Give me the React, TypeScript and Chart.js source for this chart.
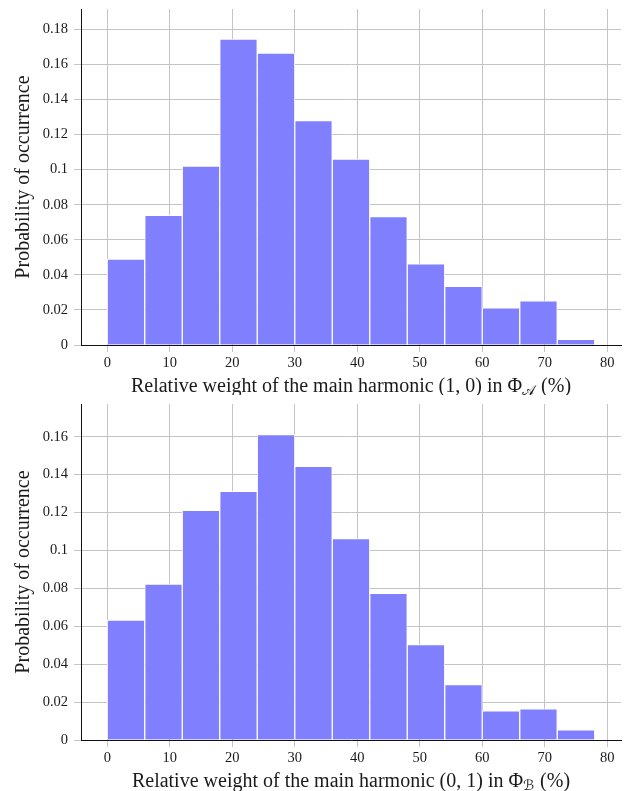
import React, { useEffect, useRef } from "react";
import { Chart, registerables } from "chart.js";

Chart.register(...registerables);

// Histogram bins (left edges, width in %)
const binStarts = [0, 6, 12, 18, 24, 30, 36, 42, 48, 54, 60, 66, 72];
const binWidth = 6;

// Probability of occurrence, top panel (Φ_A) and bottom panel (Φ_B)
const probA = [0.049, 0.074, 0.102, 0.1745, 0.1665, 0.128, 0.106, 0.0733, 0.0463, 0.0334, 0.0212, 0.0252, 0.0032];
const probB = [0.0633, 0.0823, 0.1212, 0.1312, 0.1612, 0.1444, 0.1063, 0.0774, 0.0503, 0.0293, 0.0154, 0.0165, 0.0054];

// Tick labels
const xTicks = [0, 10, 20, 30, 40, 50, 60, 70, 80];
const yTicksA = [0, 0.02, 0.04, 0.06, 0.08, 0.1, 0.12, 0.14, 0.16, 0.18];
const yTicksB = [0, 0.02, 0.04, 0.06, 0.08, 0.1, 0.12, 0.14, 0.16];

const yTitle = "Probability of occurrence";
const xTitleStart = "Relative weight of the main harmonic ";
const pairA = "(1, 0)";
const pairB = "(0, 1)";
const subA = "\u{1D49C}";
const subB = "\u212C";

const SERIF = '"Liberation Serif", "DejaVu Serif", serif';
const TEXT = "#1a1a1a";

type Props = {
  values: number[];
  yMax: number;
  yTicks: number[];
  pair: string;
  sub: string;
  height: number;
};

function Hist({ values, yMax, yTicks, pair, sub, height }: Props) {
  const ref = useRef<HTMLCanvasElement | null>(null);

  useEffect(() => {
    const canvas = ref.current;
    if (!canvas) return;

    const xTitlePlugin = {
      id: "xTitleSub",
      afterDraw(chart: any) {
        const ctx = chart.ctx as CanvasRenderingContext2D;
        const area = chart.chartArea;
        const mainFont = `20px ${SERIF}`;
        const subFont = `14px "DejaVu Sans", ${SERIF}`;
        const partA = xTitleStart + pair + " in \u03A6";
        const partC = " (%)";
        ctx.save();
        ctx.fillStyle = TEXT;
        ctx.textBaseline = "alphabetic";
        ctx.textAlign = "left";
        ctx.font = mainFont;
        const wA = ctx.measureText(partA).width;
        const wC = ctx.measureText(partC).width;
        ctx.font = subFont;
        const wB = ctx.measureText(sub).width;
        const total = wA + wB + 1 + wC;
        let x = (area.left + area.right) / 2 - total / 2;
        const y = area.bottom + 46.5;
        ctx.font = mainFont;
        ctx.fillText(partA, x, y);
        x += wA;
        ctx.font = subFont;
        ctx.fillText(sub, x, y + 3.5);
        x += wB + 1;
        ctx.font = mainFont;
        ctx.fillText(partC, x, y);
        ctx.restore();
      },
    };

    const chart = new Chart(canvas, {
      type: "bar",
      data: {
        datasets: [
          {
            data: binStarts.map((s, i) => ({ x: s + binWidth / 2, y: values[i] })),
            backgroundColor: "#8080ff",
            borderColor: "rgba(255,255,255,0.85)",
            borderWidth: 1,
            categoryPercentage: 1,
            barPercentage: 1,
          },
        ],
      },
      options: {
        responsive: false,
        animation: false,
        devicePixelRatio: 1,
        layout: { padding: { top: 9, right: 7, left: 0, bottom: 0 } },
        plugins: {
          legend: { display: false },
          tooltip: { enabled: false },
        },
        scales: {
          x: {
            type: "linear",
            offset: false,
            min: -4.2,
            max: 82.2,
            afterBuildTicks: (s: any) => {
              s.ticks = xTicks.map((v) => ({ value: v }));
            },
            afterFit: (s: any) => {
              s.height = height - 9 - 336;
              s.paddingLeft = 0;
              s.paddingRight = 0;
            },
            grid: {
              offset: false,
              color: "#c4c4c4",
              lineWidth: 1,
              tickLength: 7,
            },
            border: { color: "#111", width: 1 },
            ticks: {
              color: TEXT,
              font: { family: SERIF, size: 14.5 },
              padding: 2,
              maxRotation: 0,
              callback: (v: any) => String(v),
            },
          },
          y: {
            type: "linear",
            min: 0,
            max: yMax,
            afterBuildTicks: (s: any) => {
              s.ticks = yTicks.map((v) => ({ value: v }));
            },
            afterFit: (s: any) => {
              s.width = 81;
              s.paddingTop = 0;
              s.paddingBottom = 0;
            },
            grid: {
              color: "#c4c4c4",
              lineWidth: 1,
              tickLength: 7,
            },
            border: { color: "#111", width: 1 },
            ticks: {
              color: TEXT,
              font: { family: SERIF, size: 14.5 },
              padding: 6,
              callback: (v: any) => String(parseFloat(Number(v).toFixed(2))),
            },
            title: {
              display: true,
              text: yTitle,
              color: TEXT,
              font: { family: SERIF, size: 20 },
              padding: { top: 12, bottom: 0 },
            },
          },
        },
      },
      plugins: [xTitlePlugin],
    } as any);

    return () => chart.destroy();
  }, [values, yMax, yTicks, pair, sub, height]);

  return <canvas ref={ref} width={628} height={height} style={{ display: "block" }} />;
}

export default function App() {
  return (
    <div style={{ position: "absolute", left: 0, top: 0, width: 628, height: 791, background: "#fff" }}>
      <Hist values={probA} yMax={0.1916} yTicks={yTicksA} pair={pairA} sub={subA} height={395} />
      <Hist values={probB} yMax={0.1773} yTicks={yTicksB} pair={pairB} sub={subB} height={396} />
    </div>
  );
}
